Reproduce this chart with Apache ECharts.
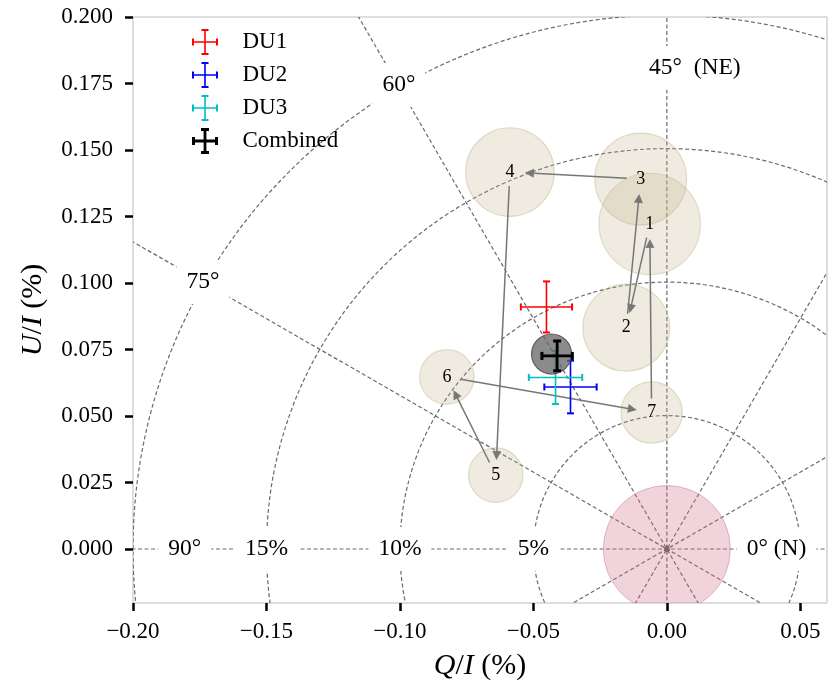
<!DOCTYPE html>
<html>
<head>
<meta charset="utf-8">
<script src="https://cdn.jsdelivr.net/npm/echarts@6/dist/echarts.min.js"></script>
<style>html,body{margin:0;padding:0;background:#fff;}#c{width:828px;height:687px;}</style>
</head>
<body>
<div id="c"></div>
<script>
// ---- data ----
const xTicks = [-0.20, -0.15, -0.10, -0.05, 0.00, 0.05];
const yTicks = [0.000, 0.025, 0.050, 0.075, 0.100, 0.125, 0.150, 0.175, 0.200];

const gridRadii = [0.05, 0.10, 0.15, 0.20];
const spokeAngles = [0, 15, 30, 45, 60, 75];          // polarization angle (deg), plotted at 2*angle
const pctLabels = ['5%', '10%', '15%'];
const pctRadii = [0.05, 0.10, 0.15];
const angLabels = ['0° (N)', '45°  (NE)', '60°', '75°', '90°'];
const angLabelQ = [0.0411, 0.0105, -0.1004, -0.1738, -0.1806];
const angLabelU = [0.0000, 0.1808, 0.1744, 0.1004, 0.0000];

const mdpRadius = 0.0238;

const binLabels = ['1', '2', '3', '4', '5', '6', '7'];
const binQ = [-0.0064, -0.0152, -0.0098, -0.0588, -0.0641, -0.0824, -0.0057];
const binU = [0.1222, 0.0832, 0.1391, 0.1417, 0.0278, 0.0647, 0.0513];
const binR = [0.0190, 0.0163, 0.0172, 0.0166, 0.0102, 0.0102, 0.0115];

const combCircle = [-0.0432, 0.0733, 0.0075];

const duNames = ['DU1', 'DU2', 'DU3', 'Combined'];
const duColors = ['#ff0000', '#0000ff', '#00bfbf', '#000000'];
const duQ = [-0.0451, -0.0361, -0.0417, -0.0411];
const duU = [0.0910, 0.0609, 0.0645, 0.0726];
const duQerr = [0.0096, 0.0098, 0.0100, 0.0057];
const duUerr = [0.0096, 0.0099, 0.0100, 0.0056];

// ---- styles ----
const FONT = "'Liberation Serif', 'DejaVu Serif', serif";
const DASH = { stroke: '#6a6a6a', lineWidth: 1.2, lineDash: [4, 2.5], fill: null };
const PX = 2665; // approx pixels per data unit (for arrow shrink)

function fmtMinus(v, d) { return (v < -1e-9 ? '\u2212' : '') + Math.abs(v).toFixed(d); }

// legend icon paths (errorbar crosses)
function crossPath(t, ct, cl) {
  const s = 26, a = (s - t) / 2, b = (s - cl) / 2;
  return 'path://' +
    `M0,${a}h${s}v${t}h-${s}z` +
    `M${a},0h${t}v${s}h-${t}z` +
    `M0,${b}h${ct}v${cl}h-${ct}z` +
    `M${s - ct},${b}h${ct}v${cl}h-${ct}z` +
    `M${b},0h${cl}v${ct}h-${cl}z` +
    `M${b},${s - ct}h${cl}v${ct}h-${cl}z`;
}
const thinIcon = crossPath(1.6, 2, 7);
const thickIcon = crossPath(2.8, 3, 8);

// arrows between successive bins (1->2->...->7->1)
const arrowData = [];
for (let i = 0; i < binQ.length; i++) {
  const j = (i + 1) % binQ.length;
  const dx = binQ[j] - binQ[i], dy = binU[j] - binU[i];
  const L = Math.sqrt(dx * dx + dy * dy);
  const s0 = 14 / PX, s1 = 19.5 / PX;
  arrowData.push({ coords: [
    [binQ[i] + dx / L * s0, binU[i] + dy / L * s0],
    [binQ[j] - dx / L * s1, binU[j] - dy / L * s1]
  ] });
}

function circleItem(fill, stroke, lw) {
  return function (params, api) {
    const c = api.coord([api.value(0), api.value(1)]);
    const r = api.size([api.value(2), 0])[0];
    return { type: 'circle', shape: { cx: c[0], cy: c[1], r: r },
      style: { fill: fill, stroke: stroke, lineWidth: lw } };
  };
}

function errItem(color, lw, clw, ch) {
  return function (params, api) {
    const x = api.value(0), y = api.value(1), ex = api.value(2), ey = api.value(3);
    const l = api.coord([x - ex, y]), r = api.coord([x + ex, y]);
    const t = api.coord([x, y + ey]), b = api.coord([x, y - ey]);
    const st = { stroke: color, lineWidth: lw };
    const cs = { stroke: color, lineWidth: clw };
    return { type: 'group', children: [
      { type: 'line', shape: { x1: l[0], y1: l[1], x2: r[0], y2: r[1] }, style: st },
      { type: 'line', shape: { x1: t[0], y1: t[1], x2: b[0], y2: b[1] }, style: st },
      { type: 'line', shape: { x1: l[0], y1: l[1] - ch, x2: l[0], y2: l[1] + ch }, style: cs },
      { type: 'line', shape: { x1: r[0], y1: r[1] - ch, x2: r[0], y2: r[1] + ch }, style: cs },
      { type: 'line', shape: { x1: t[0] - ch, y1: t[1], x2: t[0] + ch, y2: t[1] }, style: cs },
      { type: 'line', shape: { x1: b[0] - ch, y1: b[1], x2: b[0] + ch, y2: b[1] }, style: cs }
    ] };
  };
}

function textItem(texts, size, bg, pad) {
  return function (params, api) {
    const c = api.coord([api.value(0), api.value(1)]);
    const st = { text: texts[params.dataIndex], x: 0, y: 0, fill: '#000',
      font: size + 'px ' + FONT, align: 'center', verticalAlign: 'middle' };
    if (bg) { st.backgroundColor = bg; st.padding = pad; }
    return { type: 'text', x: c[0], y: c[1], style: st };
  };
}

const series = [];

// dashed grid circles
series.push({ type: 'custom', name: 'gridCircles', z: 1, clip: true, silent: true,
  data: gridRadii.map(r => [0, 0, r]),
  renderItem: function (params, api) {
    const c = api.coord([0, 0]);
    const r = api.size([api.value(2), 0])[0];
    return { type: 'circle', shape: { cx: c[0], cy: c[1], r: r }, style: DASH };
  }
});
// dashed spokes
series.push({ type: 'custom', name: 'spokes', z: 1, clip: true, silent: true,
  data: spokeAngles.map(a => [a]),
  renderItem: function (params, api) {
    const a = api.value(0) * 2 * Math.PI / 180, L = 0.4;
    const p1 = api.coord([L * Math.cos(a), L * Math.sin(a)]);
    const p2 = api.coord([-L * Math.cos(a), -L * Math.sin(a)]);
    return { type: 'line', shape: { x1: p1[0], y1: p1[1], x2: p2[0], y2: p2[1] }, style: DASH };
  }
});
// MDP circle
series.push({ type: 'custom', name: 'mdp', z: 2, clip: true, silent: true,
  data: [[0, 0, mdpRadius]],
  renderItem: circleItem('rgba(205,110,135,0.30)', 'rgba(200,110,135,0.45)', 1)
});
series.push({ type: 'scatter', name: 'origin', z: 3, silent: true, symbolSize: 6,
  itemStyle: { color: '#7d5e66' }, data: [[0, 0]] });
// bin circles
series.push({ type: 'custom', name: 'bins', z: 3, clip: true, silent: true,
  data: binQ.map((q, i) => [q, binU[i], binR[i]]),
  renderItem: circleItem('rgba(196,180,140,0.27)', 'rgba(190,175,135,0.40)', 1.2)
});
// arrows
series.push({ type: 'lines', name: 'arrows', coordinateSystem: 'cartesian2d', z: 4, silent: true,
  symbol: ['none', 'triangle'], symbolSize: [8, 9],
  lineStyle: { color: '#777777', width: 1.5, opacity: 1 },
  data: arrowData
});
// bin number labels
series.push({ type: 'custom', name: 'binLabels', z: 5, silent: true,
  data: binQ.map((q, i) => [q, binU[i]]),
  renderItem: textItem(binLabels, 18, null, null)
});
// DU1..DU3 error bars
for (let k = 0; k < 3; k++) {
  series.push({ type: 'custom', name: duNames[k], z: 6, silent: true,
    itemStyle: { color: duColors[k] },
    data: [[duQ[k], duU[k], duQerr[k], duUerr[k]]],
    renderItem: errItem(duColors[k], 1.6, 2, 3.5)
  });
}
// combined circle
series.push({ type: 'custom', name: 'combCircle', z: 7, silent: true,
  data: [combCircle],
  renderItem: circleItem('rgba(100,100,100,0.75)', 'rgba(70,70,70,0.8)', 1.2)
});
// combined error bar
series.push({ type: 'custom', name: duNames[3], z: 8, silent: true,
  itemStyle: { color: duColors[3] },
  data: [[duQ[3], duU[3], duQerr[3], duUerr[3]]],
  renderItem: errItem(duColors[3], 2.8, 3, 4)
});
// grid labels with white boxes
const gridLabelTexts = pctLabels.concat(angLabels);
const gridLabelPos = pctRadii.map(r => [-r, 0]).concat(angLabelQ.map((q, i) => [q, angLabelU[i]]));
series.push({ type: 'custom', name: 'gridLabels', z: 9, silent: true,
  data: gridLabelPos,
  renderItem: textItem(gridLabelTexts, 23.5, '#ffffff', [10, 10])
});

const chart = echarts.init(document.getElementById('c'), null, { renderer: 'canvas' });
chart.setOption({
  animation: false,
  backgroundColor: '#ffffff',
  grid: { left: 133, right: 1, top: 17, bottom: 84, show: true, borderColor: '#bdbdbd', borderWidth: 1,
    backgroundColor: 'transparent' },
  xAxis: {
    type: 'value', min: -0.2, max: 0.06,
    axisLine: { show: false, onZero: false },
    splitLine: { show: false },
    axisTick: { show: true, customValues: xTicks, length: 8, lineStyle: { color: '#000', width: 2.5 } },
    axisLabel: { customValues: xTicks, margin: 17, color: '#000', fontFamily: FONT, fontSize: 23,
      formatter: v => fmtMinus(v, 2) },
    name: '{i|Q}{n|/}{i|I}{n| (%)}', nameLocation: 'middle', nameGap: 48,
    nameTextStyle: { fontFamily: FONT, fontSize: 30, color: '#000',
      rich: { i: { fontFamily: FONT, fontSize: 30, fontStyle: 'italic', color: '#000' },
              n: { fontFamily: FONT, fontSize: 30, color: '#000' } } }
  },
  yAxis: {
    type: 'value', min: -0.0203, max: 0.2,
    axisLine: { show: false, onZero: false },
    splitLine: { show: false },
    axisTick: { show: true, customValues: yTicks, length: 8, lineStyle: { color: '#000', width: 2.5 } },
    axisLabel: { customValues: yTicks, margin: 20, color: '#000', fontFamily: FONT, fontSize: 23,
      formatter: v => fmtMinus(v, 3) },
    name: '{i|U}{n|/}{i|I}{n| (%)}', nameLocation: 'middle', nameGap: 85, nameRotate: 90,
    nameTextStyle: { fontFamily: FONT, fontSize: 30, color: '#000',
      rich: { i: { fontFamily: FONT, fontSize: 30, fontStyle: 'italic', color: '#000' },
              n: { fontFamily: FONT, fontSize: 30, color: '#000' } } }
  },
  legend: {
    orient: 'vertical', left: 187, top: 24, itemWidth: 27, itemHeight: 26, itemGap: 7,
    selectedMode: false,
    textStyle: { fontFamily: FONT, fontSize: 23, color: '#000', padding: [0, 0, 0, 19] },
    data: duNames.map((n, i) => ({ name: n, icon: i === 3 ? thickIcon : thinIcon,
      itemStyle: { color: duColors[i] } }))
  },
  series: series
});
</script>
</body>
</html>
